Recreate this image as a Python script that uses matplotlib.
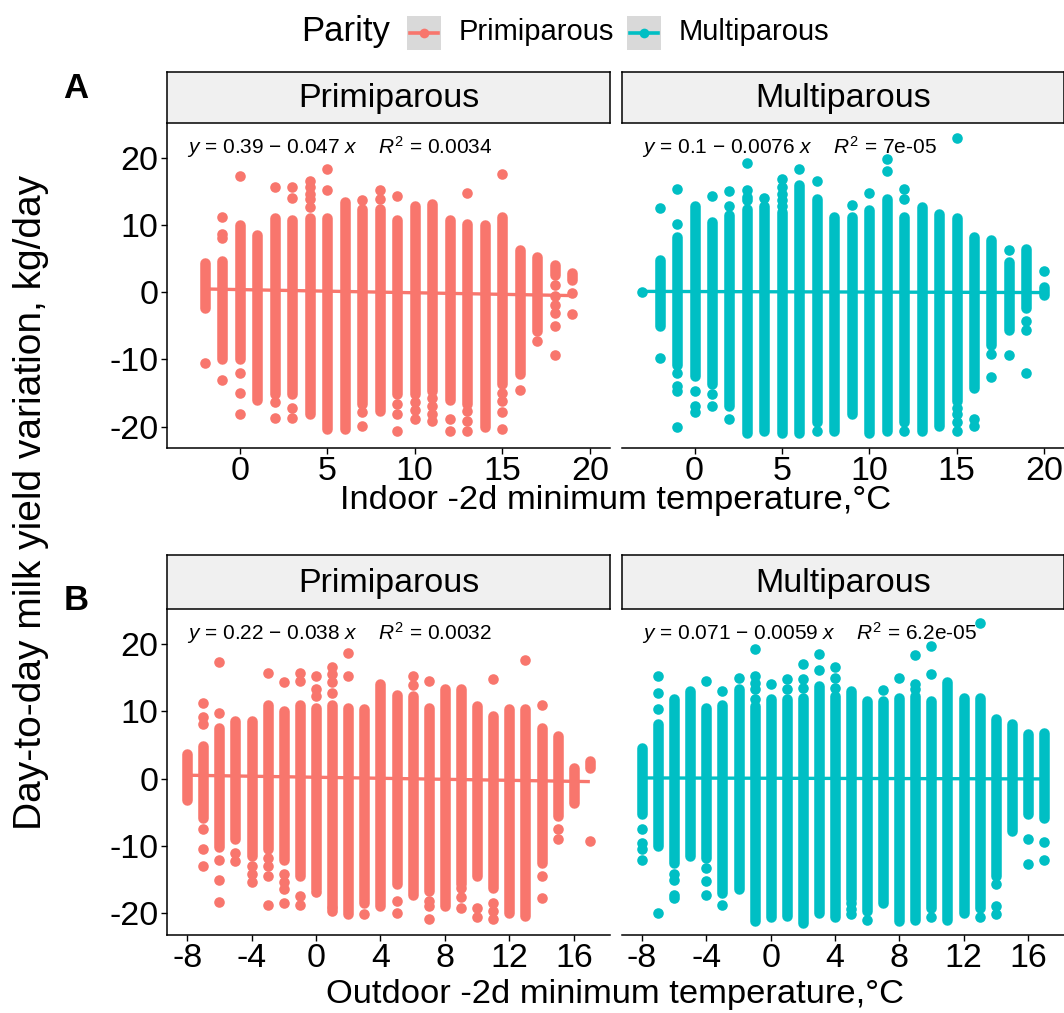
"""
Day-to-day milk yield variation vs. -2d minimum temperature, by parity.
Facet-style 2x2 layout (indoor / outdoor rows, primiparous / multiparous columns).
"""

import matplotlib
matplotlib.use("Agg")  # no display
import matplotlib.pyplot as plt
from matplotlib.lines import Line2D
from matplotlib.patches import Rectangle

plt.rcParams["font.family"] = ["Liberation Sans", "DejaVu Sans"]
plt.rcParams["mathtext.fontset"] = "custom"
plt.rcParams["mathtext.it"] = "Liberation Sans:italic"
plt.rcParams["mathtext.rm"] = "Liberation Sans"

PRI = "#F8766D"
MUL = "#00BFC4"

# ---- A: indoor, primiparous -------------------------------------------
in_pri_x = list(range(-2, 20))
in_pri_hi = [4.3, 4.6, 10.0, 8.5, 11.0, 10.7, 11.0, 11.0, 13.4, 12.4, 12.4,
             10.7, 12.9, 13.2, 10.7, 10.2, 10.0, 11.2, 6.3, 5.3, 4.0, 2.8]
in_pri_lo = [-2.4, -10.0, -10.0, -16.0, -15.2, -15.2, -18.2, -20.4, -20.4, -16.7, -17.7,
             -15.2, -15.2, -14.7, -16.0, -16.7, -20.1, -13.7, -12.2, -5.8, 2.6, 1.8]
in_pri_ox = [-2, -1, -1, -1, -1, 0, 0, 0, 0, 2, 2, 2, 3, 3, 3, 3,
             4, 4, 4, 4, 4, 5, 5, 7, 7, 7, 8, 8, 9, 9, 9, 9,
             10, 10, 10, 11, 11, 11, 11, 12, 12, 13, 13, 13, 13,
             15, 15, 15, 15, 15, 16, 17, 18, 18, 18, 18, 18, 18, 19, 19]
in_pri_oy = [-10.5, 11.2, 8.7, 8.1, -13.0, 17.3, -12.1, -15.0, -18.2, 15.7, -16.4, -18.7,
             15.7, 14.0, -17.2, -18.7, 16.6, 15.6, 14.6, 13.9, 12.7, 18.4, 15.2,
             13.7, -17.9, -19.9, 15.2, 13.9, 14.4, -16.6, -18.2, -20.7,
             -16.4, -17.6, -18.9, -15.7, -17.0, -18.2, -19.2, -18.9, -20.6,
             14.8, -17.7, -19.2, -20.6, 17.6, -15.0, -16.2, -17.9, -20.4,
             -14.6, -7.3, 1.1, -0.6, -1.9, -3.1, -5.1, -9.3, -0.15, -3.3]

# ---- A: indoor, multiparous -------------------------------------------
in_mul_x = list(range(-2, 21))
in_mul_hi = [4.8, 8.2, 12.8, 10.5, 11.5, 12.4, 12.8, 12.0, 16.0, 13.9, 11.2, 11.2,
             12.2, 13.9, 11.2, 12.7, 11.7, 11.0, 8.2, 7.8, 4.5, 6.5, 0.8]
in_mul_lo = [-5.1, -10.8, -12.5, -13.7, -16.9, -20.9, -20.6, -20.9, -20.9, -19.4, -20.6,
             -18.2, -20.9, -20.6, -19.4, -20.6, -19.9, -16.2, -14.2, -7.8, -5.6, -2.4, -0.4]
in_mul_ox = [-3, -2, -2, -1, -1, -1, -1, -1, -1, 0, 0, 0, 1, 1, 1, 2, 2, 2,
             3, 3, 3, 3, 4, 5, 5, 5, 5, 5, 6, 7, 7, 9, 10, 11, 11, 12, 12, 12,
             15, 15, 15, 15, 15, 16, 16, 17, 17, 18, 18, 19, 19, 19, 20]
in_mul_oy = [0.0, 12.5, -9.8, 15.3, 10.2, -12.1, -14.0, -14.7, -20.1, -14.7, -16.9, -17.9,
             14.3, -15.2, -16.9, 15.0, 12.9, -18.9, 19.3, 15.2, 14.2, 13.7, 14.0,
             16.9, 15.7, 14.7, 13.7, 12.9, 18.4, 16.5, -20.6, 13.0, 14.8, 19.9, 18.1,
             15.4, 13.9, -20.6, 22.9, -17.2, -18.2, -19.4, -20.6, -18.9, -19.9,
             -9.2, -12.6, 6.3, -9.4, -4.3, -5.6, -12.1, 3.2]

# ---- B: outdoor, primiparous ------------------------------------------
out_pri_x = list(range(-8, 18))
out_pri_hi = [3.6, 4.9, 7.6, 8.5, 8.6, 11.0, 10.0, 11.0, 10.5, 11.0, 10.5, 10.3, 14.0,
              12.5, 12.3, 10.5, 13.3, 13.3, 10.8, 9.3, 10.3, 10.3, 7.6, 6.3, 1.6, 2.6]
out_pri_lo = [-3.1, -5.8, -10.2, -9.0, -11.5, -10.5, -12.0, -14.5, -16.4, -18.9, -20.1,
              -18.4, -18.9, -15.7, -17.2, -16.7, -18.9, -15.7, -14.5, -16.2, -19.9, -20.4,
              -12.5, -5.5, -3.6, 1.6]
out_pri_ox = [-7, -7, -7, -7, -7, -7, -6, -6, -6, -6, -6, -5, -5, -4, -4, -4,
              -3, -3, -3, -3, -3, -2, -2, -2, -2, -2, -1, -1, -1, -1,
              0, 0, 0, 0, 1, 1, 1, 1, 1, 1, 2, 2, 3, 5, 5, 6, 6,
              7, 7, 7, 7, 9, 9, 9, 10, 10, 11, 11, 11, 11, 13, 14, 14, 14, 15, 15, 17]
out_pri_oy = [11.3, 9.1, 8.1, -7.5, -10.5, -13.0, 17.3, 9.7, -12.0, -15.0, -18.3,
              -11.0, -12.2, -13.0, -14.2, -15.4, 15.7, -11.7, -13.0, -14.5, -18.7,
              14.3, -14.2, -15.3, -16.4, -18.4, 15.7, 14.5, -17.4, -18.7,
              15.2, 13.3, 12.3, -16.8, 16.6, 15.5, 14.3, 12.8, -19.2, -19.7, 18.6, 15.2,
              -20.1, -18.2, -19.9, 15.2, 13.9, 14.5, -18.2, -18.9, -20.8,
              -16.2, -17.5, -19.2, -19.2, -20.6, 14.8, -18.4, -19.6, -20.8,
              17.6, 10.9, -14.5, -17.7, -7.5, -9.0, -9.3]

# ---- B: outdoor, multiparous ------------------------------------------
out_mul_x = list(range(-8, 18))
out_mul_hi = [4.6, 8.1, 11.9, 13.0, 10.5, 11.0, 13.3, 10.8, 11.8, 11.8, 12.0, 13.8, 12.3,
              13.0, 11.5, 11.5, 12.0, 12.3, 11.5, 14.3, 12.0, 12.0, 8.8, 8.1, 6.6, 6.8]
out_mul_lo = [-5.3, -10.0, -12.5, -11.5, -11.7, -16.9, -16.4, -21.1, -20.6, -20.4, -21.4,
              -19.9, -20.6, -17.9, -19.7, -18.4, -21.1, -20.9, -19.2, -20.9, -19.9, -19.2,
              -14.5, -7.8, -5.3, -5.8]
out_mul_ox = [-8, -8, -8, -8, -7, -7, -7, -7, -6, -6, -6, -6, -4, -4, -4, -4,
              -3, -3, -2, -1, -1, -1, -1, -1, 0, 1, 1, 2, 2, 2, 3, 3, 4, 4, 4,
              5, 5, 5, 6, 7, 8, 9, 9, 9, 10, 10, 10, 13, 13, 14, 14, 14, 16, 16, 17, 17]
out_mul_oy = [-7.4, -9.5, -10.5, -12.0, 15.3, 12.8, 10.4, -20.0, -14.2, -15.0, -17.2, -17.7,
              14.5, -13.2, -15.2, -17.2, 13.0, -18.8, 15.0, 19.3, 15.2, 14.2, 13.3, 11.9,
              14.0, 14.8, 13.3, 17.0, 14.8, 13.5, 18.5, 16.1, 16.6, 15.0, 13.5,
              -18.4, -19.3, -20.1, -21.0, 13.1, 14.9, 18.3, 14.0, 13.3, 19.7, 15.5, -20.6,
              23.1, -20.6, -15.7, -18.9, -20.1, -9.0, -12.6, -9.4, -12.1]

# fitted lines (intercept, slope, R^2) as printed on the panels
fit_a = [0.39, 0.1, 0.22, 0.071]
fit_b = [-0.047, -0.0076, -0.038, -0.0059]
fit_r2 = [0.0034, 7e-05, 0.0032, 6.2e-05]

facet_names = ["Primiparous", "Multiparous"]
row_titles = ["Indoor -2d minimum temperature,\u00b0C",
              "Outdoor -2d minimum temperature,\u00b0C"]
row_xticks = [[0, 5, 10, 15, 20], [-8, -4, 0, 4, 8, 12, 16]]
row_xlim = [(-4.15, 21.15), (-9.25, 18.25)]
yticks = [-20, -10, 0, 10, 20]

W, H = 1064, 1013
fig = plt.figure(figsize=(W / 100, H / 100), dpi=100)


def px_rect(x0, y0, x1, y1):
    """pixel box (top-left origin) -> figure fraction rect"""
    return [x0 / W, 1 - y1 / H, (x1 - x0) / W, (y1 - y0) / H]


col_px = [(167, 610), (622, 1064)]
row_px = [(123, 448), (609, 935)]
strip_px = [(72, 123), (555, 609)]

panels = [
    (in_pri_x, in_pri_lo, in_pri_hi, in_pri_ox, in_pri_oy, PRI),
    (in_mul_x, in_mul_lo, in_mul_hi, in_mul_ox, in_mul_oy, MUL),
    (out_pri_x, out_pri_lo, out_pri_hi, out_pri_ox, out_pri_oy, PRI),
    (out_mul_x, out_mul_lo, out_mul_hi, out_mul_ox, out_mul_oy, MUL),
]

for i, (xs, lo, hi, ox, oy, color) in enumerate(panels):
    r, c = divmod(i, 2)
    x0, x1 = col_px[c]
    y0, y1 = row_px[r]
    ax = fig.add_axes(px_rect(x0, y0, x1, y1))

    # dense columns of overlapping points -> round-capped strips
    ax.vlines(xs, lo, hi, colors=color, linewidth=7.6, capstyle="round", zorder=2)
    ax.scatter(ox, oy, s=58, color=color, linewidths=0, zorder=2)

    a, b = fit_a[i], fit_b[i]
    allx = xs + ox
    fx = [min(allx), max(allx)]
    ax.plot(fx, [a + b * v for v in fx], color=color, lw=2.4, zorder=3,
            solid_capstyle="butt")

    sign = "\u2212" if b < 0 else "+"
    eq = f"$y$ = {a:g} {sign} {abs(b):g} $x$    $R^2$ = {fit_r2[i]:g}"
    ax.text(0.045, 0.925, eq, transform=ax.transAxes, fontsize=15,
            ha="left", va="center")

    ax.set_xlim(*row_xlim[r])
    ax.set_ylim(-23.2, 25.2)
    ax.set_xticks(row_xticks[r])
    ax.set_xticklabels([str(t) for t in row_xticks[r]])
    for s in ["top", "right"]:
        ax.spines[s].set_visible(False)
    ax.spines["bottom"].set_linewidth(1.1)
    ax.spines["left"].set_linewidth(1.1)
    ax.tick_params(axis="both", labelsize=24.5, length=4, width=1.0, pad=2,
                   color="black", labelcolor="black")
    if c == 0:
        ax.set_yticks(yticks)
        ax.set_yticklabels([str(t) for t in yticks])
    else:
        ax.spines["left"].set_visible(False)
        ax.set_yticks([])

    # facet strip
    sy0, sy1 = strip_px[r]
    sax = fig.add_axes(px_rect(x0, sy0, x1, sy1))
    sax.set_facecolor("#f0f0f0")
    sax.set_xticks([])
    sax.set_yticks([])
    for s in sax.spines.values():
        s.set_linewidth(1.1)
    sax.text(0.5, 0.48, facet_names[c], ha="center", va="center", fontsize=24.5,
             transform=sax.transAxes)

# axis titles
fig.text(615.5 / W, 1 - 500 / H, row_titles[0], ha="center", va="center", fontsize=24.8)
fig.text(615.5 / W, 1 - 994 / H, row_titles[1], ha="center", va="center", fontsize=24.8)
fig.text(31 / W, 1 - 502 / H, "Day-to-day milk yield variation, kg/day",
         rotation=90, ha="center", va="center", fontsize=28)

# panel tags
fig.text(76 / W, 1 - 89 / H, "A", ha="center", va="center", fontsize=25,
         fontweight="bold")
fig.text(76 / W, 1 - 600 / H, "B", ha="center", va="center", fontsize=25,
         fontweight="bold")

# legend across the top
fig.text(301 / W, 1 - 32 / H, "Parity", ha="left", va="center", fontsize=25)
legend_items = [(407, PRI, "Primiparous"), (627, MUL, "Multiparous")]
for kx, color, label in legend_items:
    fig.patches.append(Rectangle((kx / W, 1 - 50 / H), 34 / W, 34 / H,
                                 transform=fig.transFigure, facecolor="#d9d9d9",
                                 edgecolor="none"))
    fig.lines.append(Line2D([(kx + 3) / W, (kx + 31) / W], [1 - 33 / H, 1 - 33 / H],
                            transform=fig.transFigure, color=color, lw=2.6))
    fig.lines.append(Line2D([(kx + 17) / W], [1 - 33 / H], transform=fig.transFigure,
                            color=color, marker="o", markersize=7, markeredgewidth=0))
    fig.text((kx + 52) / W, 1 - 32 / H, label, ha="left", va="center", fontsize=21)

fig.savefig("out.png", dpi=100)
